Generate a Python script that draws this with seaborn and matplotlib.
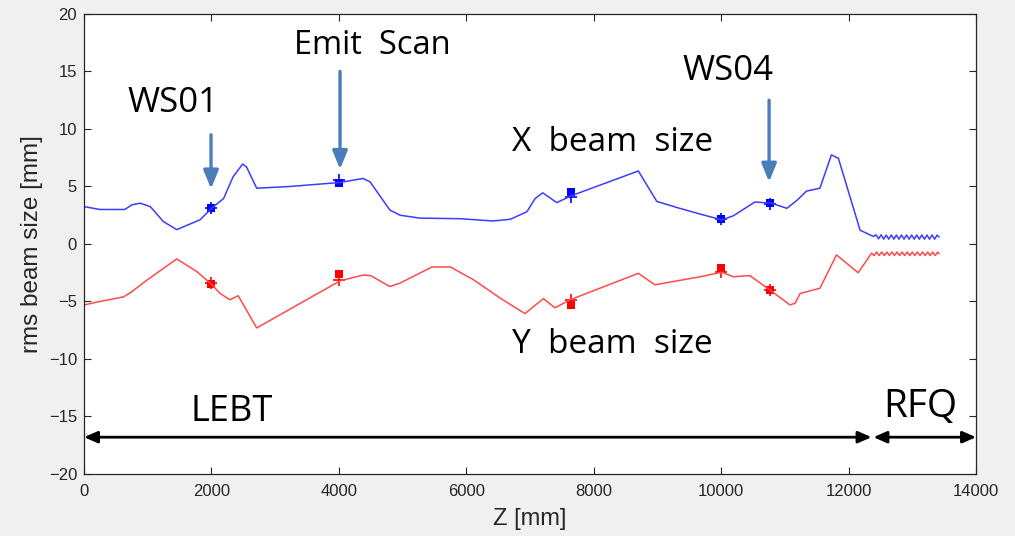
import numpy as np
import pandas as pd
import matplotlib
matplotlib.use("Agg")
import matplotlib.pyplot as plt
import seaborn as sns

# ---- data ----
z_x = [0, 250, 640, 750, 880, 1040, 1245, 1455, 1820, 2000, 2190, 2340, 2490, 2550,
       2710, 3230, 4020, 4380, 4490, 4800, 4960, 5270, 5900, 6420, 6690, 6950, 7080,
       7200, 7420, 7650, 8700, 8990, 9350, 9670, 10010, 10190, 10530, 10790, 11030,
       11190, 11340, 11550, 11730, 11840, 12180, 12390,
       12430, 12470, 12510, 12550, 12590, 12630, 12670, 12710, 12750, 12790, 12830,
       12870, 12910, 12950, 12990, 13030, 13070, 13110, 13150, 13190, 13230, 13270,
       13310, 13350, 13390, 13420]
x_size = [3.25, 3.0, 3.0, 3.4, 3.55, 3.25, 1.95, 1.25, 2.1, 3.1, 3.95, 5.85, 6.95, 6.7,
          4.85, 5.0, 5.35, 5.7, 5.4, 2.95, 2.5, 2.25, 2.2, 2.0, 2.15, 2.8, 3.95,
          4.45, 3.6, 4.2, 6.35, 3.7, 3.1, 2.6, 2.1, 2.45, 3.65, 3.55, 3.1,
          3.8, 4.6, 4.85, 7.75, 7.45, 1.2, 0.65,
          0.8, 0.45, 0.8, 0.42, 0.78, 0.42, 0.78, 0.42, 0.78, 0.42, 0.78,
          0.42, 0.78, 0.42, 0.78, 0.42, 0.78, 0.42, 0.78, 0.42, 0.78, 0.42,
          0.78, 0.42, 0.78, 0.6]

z_y = [0, 250, 620, 750, 985, 1455, 1770, 2000, 2135, 2290, 2420, 2710, 4020, 4380,
       4500, 4800, 4960, 5460, 5750, 6110, 6530, 6920, 7210, 7390, 7630, 8700, 8960,
       9670, 10010, 10190, 10450, 10790, 11080, 11160, 11240, 11550, 11810, 12150, 12360,
       12400, 12440, 12480, 12520, 12560, 12600, 12640, 12680, 12720, 12760, 12800,
       12840, 12880, 12920, 12960, 13000, 13040, 13080, 13120, 13160, 13200, 13240,
       13280, 13320, 13360, 13400, 13420]
y_size = [-5.3, -5.0, -4.6, -4.15, -3.15, -1.3, -2.4, -3.5, -4.3, -4.85, -4.5, -7.3, -3.2, -2.7,
          -2.75, -3.7, -3.4, -2.0, -2.0, -3.1, -4.7, -6.05, -4.75, -5.55, -4.85, -2.55, -3.55,
          -2.85, -2.45, -2.85, -2.75, -4.1, -5.3, -5.15, -4.3, -3.85, -0.95, -2.5, -0.8,
          -1.0, -0.7, -1.0, -0.7, -1.0, -0.7, -1.0, -0.7, -1.0, -0.7, -1.0,
          -0.7, -1.0, -0.7, -1.0, -0.7, -1.0, -0.7, -1.0, -0.7, -1.0, -0.7,
          -1.0, -0.7, -1.0, -0.7, -0.85]

# measurement points (squares) and simulated points (plus)
z_meas = [2000, 4000, 7650, 10000, 10770]
x_meas = [3.1, 5.3, 4.5, 2.2, 3.6]
x_sim = [3.1, 5.6, 4.1, 2.2, 3.5]
y_meas = [-3.5, -2.6, -5.3, -2.1, -4.0]
y_sim = [-3.4, -3.1, -4.9, -2.4, -4.0]

x_ticks = [0, 2000, 4000, 6000, 8000, 10000, 12000, 14000]
y_ticks = [-20, -15, -10, -5, 0, 5, 10, 15, 20]

# ---- style ----
sns.set_style("ticks")
plt.rcParams['font.family'] = ['Liberation Sans', 'DejaVu Sans']

fig = plt.figure(figsize=(10.15, 5.36), dpi=100, facecolor='#f0f0f0')
ax = fig.add_axes([0.0828, 0.1157, 0.8788, 0.8582])
ax.set_facecolor('white')

dfx = pd.DataFrame({'z': z_x, 'v': x_size})
dfy = pd.DataFrame({'z': z_y, 'v': y_size})
sns.lineplot(data=dfx, x='z', y='v', ax=ax, color='#3c3cff', lw=1.1, sort=False)
sns.lineplot(data=dfy, x='z', y='v', ax=ax, color='#ff4a4a', lw=1.1, sort=False)

dm = pd.DataFrame({'z': z_meas, 'xm': x_meas, 'xs': x_sim, 'ym': y_meas, 'ys': y_sim})
sns.scatterplot(data=dm, x='z', y='xm', ax=ax, marker='s', s=28, color='#0000ff', linewidth=0)
sns.scatterplot(data=dm, x='z', y='xs', ax=ax, marker='+', s=70, color='#0000ff', linewidth=1.2)
sns.scatterplot(data=dm, x='z', y='ym', ax=ax, marker='s', s=28, color='#ff0000', linewidth=0)
sns.scatterplot(data=dm, x='z', y='ys', ax=ax, marker='+', s=70, color='#ff0000', linewidth=1.2)

ax.set_xlim(0, 14000)
ax.set_ylim(-20, 20)
ax.set_xticks(x_ticks)
ax.set_yticks(y_ticks)
ax.tick_params(direction='in', length=5, width=0.8, top=True, right=True,
               labelsize=12, labelcolor='#262626', color='#262626')
ax.tick_params(axis='x', pad=7)
ax.tick_params(axis='y', pad=5)
for s in ax.spines.values():
    s.set_visible(True)
    s.set_color('#262626')
    s.set_linewidth(0.9)
ax.set_xlabel('Z [mm]', fontsize=17, color='#262626', labelpad=7)
ax.set_ylabel('rms beam size [mm]', fontsize=17.5, color='#262626', labelpad=4)

# annotations
tf = dict(family=['Open Sans', 'DejaVu Sans'], color='black', ha='center', va='center')
ax.text(1400, 12.3, 'WS01', fontsize=25, **tf)
ax.text(4520, 17.3, 'Emit  Scan', fontsize=23.5, **tf)
ax.text(10110, 15.0, 'WS04', fontsize=25, **tf)
ax.text(8290, 8.85, 'X  beam  size', fontsize=24, **tf)
ax.text(8290, -8.7, 'Y  beam  size', fontsize=24, **tf)
ax.text(2320, -14.6, 'LEBT', fontsize=26, **tf)
ax.text(13120, -14.2, 'RFQ', fontsize=28, **tf)

acol = '#4a7ebb'
aprops = dict(arrowstyle='-|>,head_length=1.1,head_width=0.45', color=acol, lw=2.4,
              shrinkA=0, shrinkB=0)
ax.annotate('', xy=(1993, 4.8), xytext=(1993, 9.5), arrowprops=aprops)
ax.annotate('', xy=(4018, 6.5), xytext=(4018, 15.0), arrowprops=aprops)
ax.annotate('', xy=(10752, 5.4), xytext=(10752, 12.5), arrowprops=aprops)

bprops = dict(arrowstyle='<|-|>,head_length=0.8,head_width=0.35', color='black', lw=2.0,
              shrinkA=0, shrinkB=0)
ax.annotate('', xy=(0, -16.8), xytext=(12360, -16.8), arrowprops=bprops, annotation_clip=False)
ax.annotate('', xy=(12390, -16.8), xytext=(14000, -16.8), arrowprops=bprops, annotation_clip=False)

fig.savefig('out.png', dpi=100, facecolor=fig.get_facecolor())
